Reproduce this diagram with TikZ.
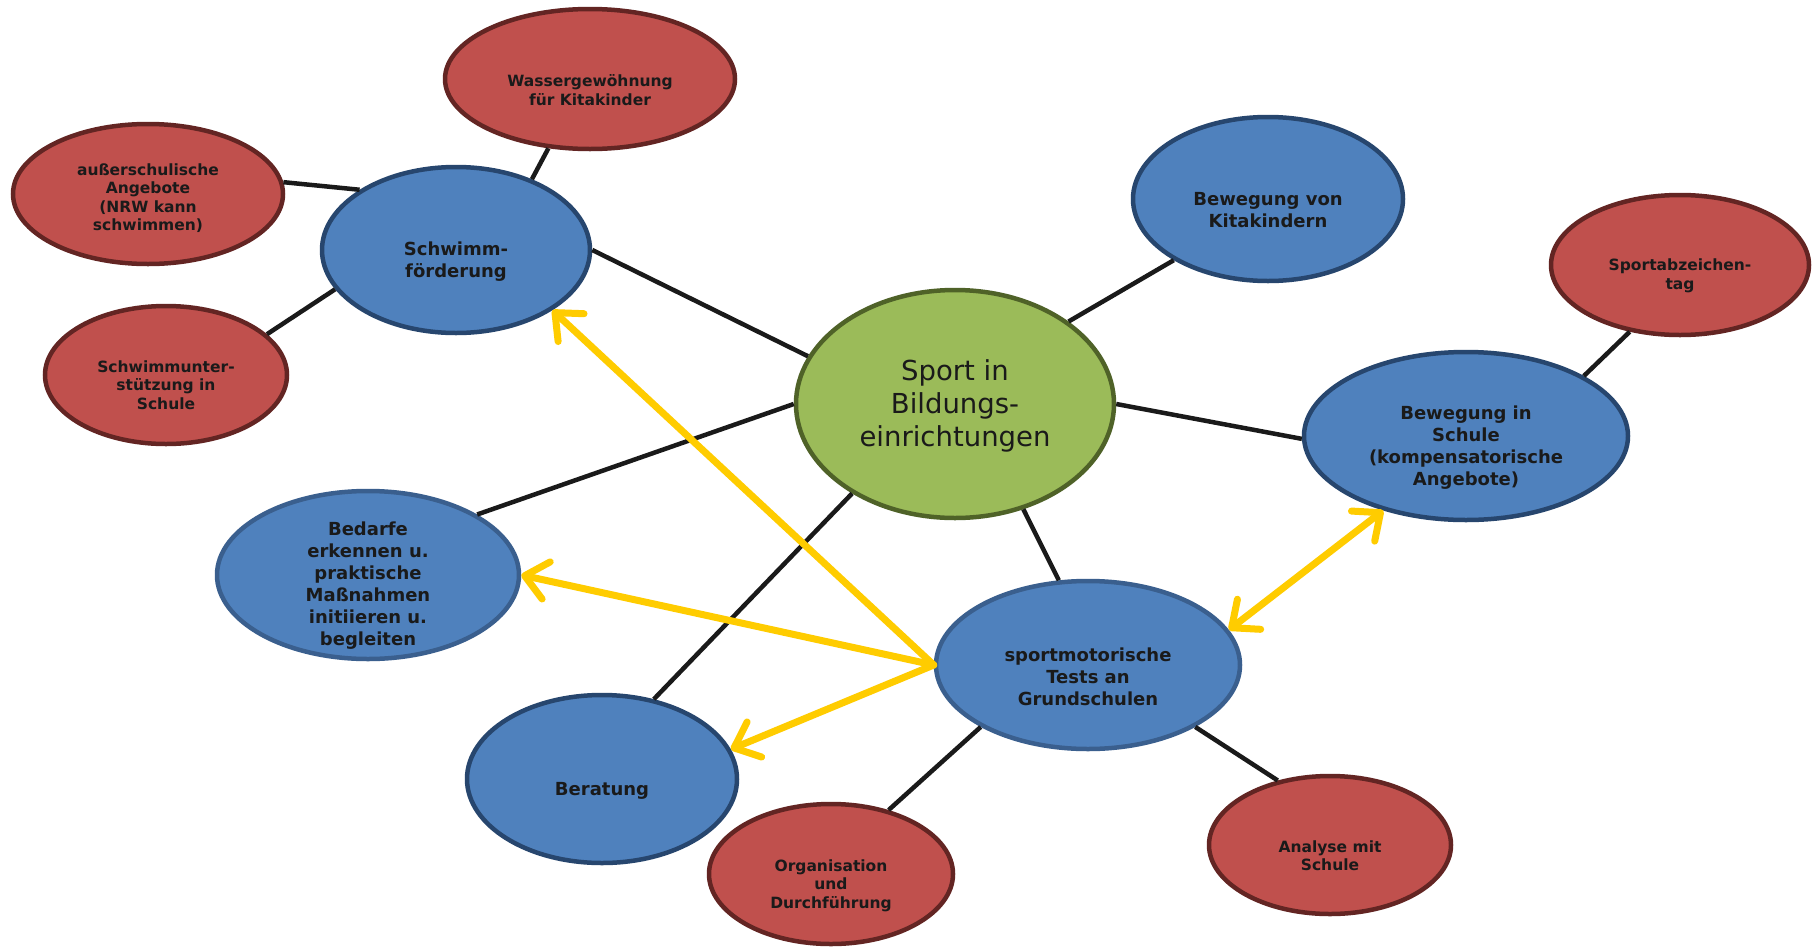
\documentclass[tikz,border=0pt]{standalone}
\usepackage{fontspec}
\setmainfont{DejaVu Sans}
\usetikzlibrary{shapes.geometric,arrows.meta}
\definecolor{bfill}{HTML}{4F81BD}
\definecolor{bdraw}{HTML}{27466E}
\definecolor{bdrawl}{HTML}{3A5F8E}
\definecolor{rfill}{HTML}{C0504D}
\definecolor{rdraw}{HTML}{632523}
\definecolor{gfill}{HTML}{9BBB59}
\definecolor{gdraw}{HTML}{4F6228}
\definecolor{txtc}{HTML}{1A1A1A}
\definecolor{ylw}{HTML}{FFCC00}
\definecolor{linec}{HTML}{1A1A1A}
\begin{document}
\begin{tikzpicture}[x=1pt,y=-1pt,
  ell/.style={ellipse, inner sep=0pt, line width=4.5pt},
  bell/.style={ell, fill=bfill, draw=bdraw},
  bellx/.style={ell, fill=bfill, draw=bdrawl},
  rell/.style={ell, fill=rfill, draw=rdraw},
  gell/.style={ell, fill=gfill, draw=gdraw},
  btxt/.style={align=center, text=txtc, font=\fontsize{18}{22}\selectfont\bfseries, inner sep=0pt},
  rtxt/.style={align=center, text=txtc, font=\fontsize{15.5}{18.5}\selectfont\bfseries, inner sep=0pt},
  ctxt/.style={align=center, text=txtc, font=\fontsize{27.5}{33}\selectfont, inner sep=0pt},
  conn/.style={line width=4.5pt, draw=linec},
  yline/.style={line width=7pt, draw=ylw, line cap=round},
  yarr/.style={yline, -{Straight Barb[round,length=22pt,width=38pt]}},
  yarrb/.style={yline, {Straight Barb[round,length=22pt,width=38pt]}-{Straight Barb[round,length=22pt,width=38pt]}},
]
\fill[white] (0,0) rectangle (1813,948);
\useasboundingbox (0,0) rectangle (1813,948);

% ellipses
\node[rell, minimum width=290pt, minimum height=140pt] (W) at (590,79) {};
\node[rell, minimum width=270pt, minimum height=140pt] (A) at (148,194) {};
\node[bell, minimum width=268pt, minimum height=166pt] (S) at (456,250) {};
\node[rell, minimum width=242pt, minimum height=138pt] (U) at (166,375) {};
\node[gell, minimum width=318pt, minimum height=228pt] (C) at (955,404) {};
\node[bell, minimum width=270pt, minimum height=164pt] (K) at (1268,199) {};
\node[rell, minimum width=258pt, minimum height=140pt] (Z) at (1680,265) {};
\node[bell, minimum width=324pt, minimum height=168pt] (B) at (1466,436) {};
\node[bellx, minimum width=302pt, minimum height=168pt] (D) at (368,575) {};
\node[bellx, minimum width=304pt, minimum height=168pt] (T) at (1088,665) {};
\node[bell, minimum width=270pt, minimum height=168pt] (R) at (602,779) {};
\node[rell, minimum width=244pt, minimum height=140pt] (O) at (831,874) {};
\node[rell, minimum width=242pt, minimum height=138pt] (N) at (1330,845) {};

% texts
\node[rtxt] (Wt) at ([yshift=-11pt]W.center) {Wassergewöhnung\\für Kitakinder};
\node[rtxt] (At) at ([yshift=-4pt]A.center) {außerschulische\\Angebote\\(NRW kann\\schwimmen)};
\node[btxt] (St) at ([yshift=-12pt]S.center) {Schwimm-\\förderung};
\node[rtxt] (Ut) at ([yshift=-10pt]U.center) {Schwimmunter-\\stützung in\\Schule};
\node[ctxt] (Ct) at ([yshift=-2pt]C.center) {Sport in\\Bildungs-\\einrichtungen};
\node[btxt] (Kt) at ([yshift=-11pt]K.center) {Bewegung von\\Kitakindern};
\node[rtxt] (Zt) at ([yshift=-11pt]Z.center) {Sportabzeichen-\\tag};
\node[btxt] (Bt) at ([yshift=-11.5pt]B.center) {Bewegung in\\Schule\\(kompensatorische\\Angebote)};
\node[btxt] (Dt) at ([yshift=-10.5pt]D.center) {Bedarfe\\erkennen u.\\praktische\\Maßnahmen\\initiieren u.\\begleiten};
\node[btxt] (Tt) at ([yshift=-11.5pt]T.center) {sportmotorische\\Tests an\\Grundschulen};
\node[btxt] (Rt) at ([yshift=-11.5pt]R.center) {Beratung};
\node[rtxt] (Ot) at ([yshift=-11.5pt]O.center) {Organisation\\und\\Durchführung};
\node[rtxt] (Nt) at ([yshift=-10.5pt]N.center) {Analyse mit\\Schule};

% black connectors
\draw[conn] (W.239) -- (S.43);
\draw[conn] (A.5) -- (S.148);
\draw[conn] (U.22) -- (S.198);
\draw[conn] (S.0) -- (C.162);
\draw[conn] (C.180) -- (D.29);
\draw[conn] (C.221) -- (R.57);
\draw[conn] (C.36) -- (K.213);
\draw[conn] (C.0) -- (B.181);
\draw[conn] (C.303) -- (T.109);
\draw[conn] (Z.233) -- (B.27);
\draw[conn] (T.210) -- (O.48);
\draw[conn] (T.330) -- (N.129);

% yellow arrows
\draw[yarr] (T.west) -- (S.328);
\draw[yarr] (T.west) -- (D.east);
\draw[yarr] (T.west) -- (R.13);
\draw[yarrb] (T.14) -- (B.222);
\end{tikzpicture}
\end{document}
